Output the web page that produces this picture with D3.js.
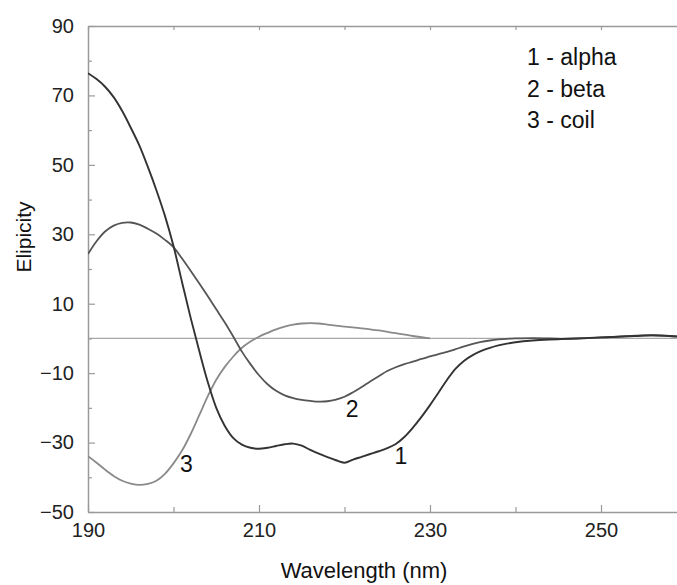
<!DOCTYPE html>
<html>
<head>
<meta charset="utf-8">
<script src="https://cdn.jsdelivr.net/npm/d3@7"></script>
<style>
  html, body { margin: 0; padding: 0; background: #fff; }
  svg { display: block; font-family: "Liberation Sans", Arial, sans-serif; }
</style>
</head>
<body>
<svg id="chart" width="677" height="585"></svg>
<script>
// CD spectra of the three reference secondary structures
const wavelengths = [190,191,192,193,194,195,196,197,198,199,200,201,202,203,204,205,206,207,208,209,210,211,212,213,214,215,216,217,218,219,220,221,222,223,224,225,226,227,228,229,230,231,232,233,234,235,236,237,238,239,240,242,244,246,248,250,252,254,256,258,260];

const alphaValues = [76.4,74.7,72.5,69.5,65.5,60.7,55.6,49.4,42.7,35.3,26.6,16.2,6,-3.5,-12.5,-20,-25.2,-28.7,-30.6,-31.5,-31.8,-31.5,-31,-30.5,-30.3,-30.9,-32.1,-33.2,-34.2,-35.1,-35.8,-34.9,-34.1,-33.3,-32.5,-31.6,-30.4,-28.4,-25.7,-22.6,-19.2,-15.6,-11.9,-8.7,-6.4,-4.8,-3.6,-2.7,-2,-1.5,-1.1,-0.6,-0.3,-0.1,0.1,0.3,0.5,0.7,0.9,0.7,0.4];

const betaValues = [24.3,28,30.8,32.5,33.3,33.4,32.8,31.6,30.2,28.4,26.3,23,19.5,15.9,12.2,8.4,4.6,0.5,-3.8,-7.4,-10.6,-13.2,-15.1,-16.4,-17.2,-17.7,-18,-18.2,-18.1,-17.6,-16.8,-15.5,-14,-12.4,-10.9,-9.4,-8.3,-7.4,-6.7,-5.9,-5.2,-4.5,-3.9,-3.1,-2.3,-1.6,-1,-0.6,-0.3,-0.1,0,0.1,0,-0.1,0,0.3,0.5,0.8,0.9,0.7,0.4];

const coilWavelengths = [190,191,192,193,194,195,196,197,198,199,200,201,202,203,204,205,206,207,208,209,210,211,212,213,214,215,216,217,218,219,220,222,224,226,228,230];
const coilValues = [-33.9,-35.8,-37.8,-39.6,-41,-41.8,-42.2,-41.9,-41,-39,-36,-32.3,-27.6,-22.2,-16.7,-11.9,-8.2,-5.2,-2.7,-0.9,0.5,1.6,2.6,3.4,4,4.3,4.4,4.3,4,3.7,3.4,2.9,2.3,1.5,0.7,0];

const xTicks = [190,210,230,250];
const xMinorTicks = [200,220,240,260];
const yTicks = [90,70,50,30,10,-10,-30,-50];
const yMinorTicks = [80,60,40,20,0,-20,-40];

const legendLabels = ["1 - alpha","2 - beta","3 - coil"];

const svg = d3.select("#chart");
const x = d3.scaleLinear().domain([190,260]).range([88,686.5]);
const y = d3.scaleLinear().domain([-50,90]).range([512,26]);

const frameColor = "#9a9a9a";
const textColor = "#222";

svg.append("defs").append("clipPath").attr("id","plotClip")
  .append("rect").attr("x",x(190)).attr("y",y(90))
  .attr("width",x(260)-x(190)).attr("height",y(-50)-y(90));

// zero reference line
svg.append("line")
  .attr("x1",x(190)).attr("x2",x(260))
  .attr("y1",y(0)).attr("y2",y(0))
  .attr("stroke","#a8a8a8").attr("stroke-width",1.3);

// axes with inward ticks
function styleAxis(g) {
  g.select(".domain").attr("stroke",frameColor).attr("stroke-width",1.5);
  g.selectAll(".tick line").attr("stroke",frameColor).attr("stroke-width",1.2);
  g.selectAll(".tick text").attr("fill",textColor).style("font-size","20px")
    .style("font-family",'"Liberation Sans", Arial, sans-serif');
}
function styleMinor(g) {
  g.select(".domain").remove();
  g.selectAll("line").attr("stroke",frameColor).attr("stroke-width",1.2);
}

const axisBottomG = svg.append("g").attr("transform",`translate(0,${y(-50)})`)
  .call(d3.axisBottom(x).tickValues(xTicks).tickFormat(d3.format("d")).tickSizeInner(-7).tickSizeOuter(0).tickPadding(11));
styleAxis(axisBottomG);
svg.append("g").attr("transform",`translate(0,${y(-50)})`)
  .call(d3.axisBottom(x).tickValues(xMinorTicks).tickFormat("").tickSizeInner(-5).tickSizeOuter(0))
  .call(styleMinor);

const axisTopG = svg.append("g").attr("transform",`translate(0,${y(90)})`)
  .call(d3.axisTop(x).tickValues(xTicks.concat(xMinorTicks)).tickFormat("").tickSizeInner(-4).tickSizeOuter(0));
styleAxis(axisTopG);

const axisLeftG = svg.append("g").attr("transform",`translate(${x(190)},0)`)
  .call(d3.axisLeft(y).tickValues(yTicks).tickFormat(d => d < 0 ? "\u2212" + Math.abs(d) : d).tickSizeInner(-7).tickSizeOuter(0).tickPadding(14));
styleAxis(axisLeftG);
svg.append("g").attr("transform",`translate(${x(190)},0)`)
  .call(d3.axisLeft(y).tickValues(yMinorTicks).tickFormat("").tickSizeInner(-4).tickSizeOuter(0))
  .call(styleMinor);

const axisRightG = svg.append("g").attr("transform",`translate(${x(260)},0)`)
  .call(d3.axisRight(y).tickValues(yTicks.concat(yMinorTicks)).tickFormat("").tickSizeInner(-5).tickSizeOuter(0));
styleAxis(axisRightG);

// spectra
const line = d3.line().x(d => x(d[0])).y(d => y(d[1])).curve(d3.curveCatmullRom.alpha(0.5));
const plot = svg.append("g").attr("clip-path","url(#plotClip)");

const series = [
  { pts: d3.zip(coilWavelengths, coilValues), color: "#8a8a8a", width: 1.8 },
  { pts: d3.zip(wavelengths, betaValues), color: "#555", width: 1.8 },
  { pts: d3.zip(wavelengths, alphaValues), color: "#333", width: 1.9 }
];
series.forEach(s => {
  plot.append("path").datum(s.pts).attr("d",line)
    .attr("fill","none").attr("stroke",s.color).attr("stroke-width",s.width)
    .attr("stroke-linejoin","round");
});

// curve numbers
const curveLabels = [
  { text: "1", wl: 226.6, v: -36.2 },
  { text: "2", wl: 220.9, v: -22.7 },
  { text: "3", wl: 201.5, v: -38.5 }
];
svg.selectAll(".curve-label").data(curveLabels).enter().append("text")
  .attr("class","curve-label")
  .attr("x",d => x(d.wl)).attr("y",d => y(d.v))
  .attr("text-anchor","middle")
  .attr("fill","#111").style("font-size","23px")
  .text(d => d.text);

// legend
svg.selectAll(".legend").data(legendLabels).enter().append("text")
  .attr("class","legend")
  .attr("x",527).attr("y",(d,i) => 65 + i*31.5)
  .attr("fill","#111").style("font-size","23px")
  .text(d => d);

// axis titles
svg.append("text")
  .attr("x",364).attr("y",578)
  .attr("text-anchor","middle").attr("fill","#111")
  .style("font-size","22px").text("Wavelength (nm)");

svg.append("text")
  .attr("transform","translate(31,237) rotate(-90)")
  .attr("text-anchor","middle").attr("fill","#111")
  .style("font-size","21px").text("Elipicity");
</script>
</body>
</html>
